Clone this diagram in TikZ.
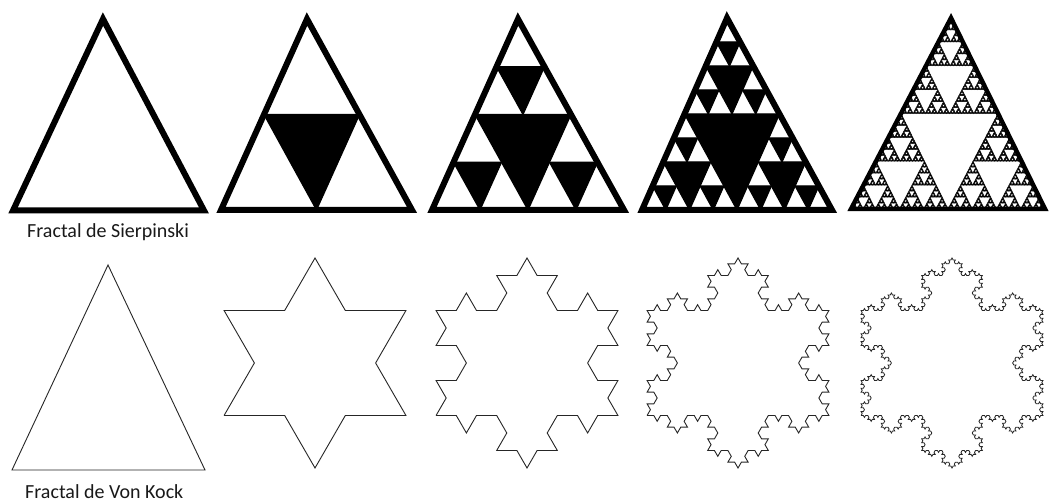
\documentclass[tikz,border=0pt]{standalone}
\usepackage{fontspec}
\setmainfont{Carlito}
\usetikzlibrary{lindenmayersystems}
\tikzset{
  outline/.style={line width=6pt, draw=black, line join=miter},
  kochline/.style={line width=0.9pt, draw=black!85, line join=miter},
  label/.style={anchor=base west, inner sep=0pt, text depth=0pt, font=\fontsize{20}{22}\selectfont, text=black!90},
  koch/.style={l-system={rule set={F -> F-F++F-F}, axiom=F++F++F, order=#1, step=181.87pt/(3^#1), angle=60}},
}
\newcommand\sierp[7]{%
  \ifnum#1>0
  \begingroup
    \pgfmathsetmacro\ux{(#2+#4)/2}\pgfmathsetmacro\uy{(#3+#5)/2}%
    \pgfmathsetmacro\vx{(#2+#6)/2}\pgfmathsetmacro\vy{(#3+#7)/2}%
    \pgfmathsetmacro\wx{(#4+#6)/2}\pgfmathsetmacro\wy{(#5+#7)/2}%
    \path[sierhole] (\ux,\uy)--(\vx,\vy)--(\wx,\wy)--cycle;
    \pgfmathtruncatemacro\nd{#1-1}%
    \edef\next{%
      \noexpand\sierp{\nd}{#2}{#3}{\ux}{\uy}{\vx}{\vy}%
      \noexpand\sierp{\nd}{\ux}{\uy}{#4}{#5}{\wx}{\wy}%
      \noexpand\sierp{\nd}{\vx}{\vy}{\wx}{\wy}{#6}{#7}}%
    \next
  \endgroup
  \fi}
\begin{document}
\begin{tikzpicture}[x=1pt,y=1pt]
\useasboundingbox[fill=white] (0,0) rectangle (1049,502);
% ---------- Sierpinski row ----------
\tikzset{sierhole/.style={fill=black, draw=black, line width=1.2pt, line join=miter}}
% T1
\draw[outline, fill=white] (103,483) -- (13,291.5) -- (204,291.5) -- cycle;
% T2
\fill[white] (307,483) -- (221,292) -- (412,292) -- cycle;
\sierp{1}{307}{483}{221}{292}{412}{292}
\draw[outline] (307,483) -- (221,292) -- (412,292) -- cycle;
% T3
\fill[white] (518,483) -- (432,292) -- (624,292) -- cycle;
\sierp{2}{518}{483}{432}{292}{624}{292}
\draw[outline] (518,483) -- (432,292) -- (624,292) -- cycle;
% T4
\fill[white] (727,484) -- (642,292) -- (832,292) -- cycle;
\sierp{3}{727}{484}{642}{292}{832}{292}
\draw[outline] (727,484) -- (642,292) -- (832,292) -- cycle;
% T5
\fill[black] (951,484) -- (851,293) -- (1045,293) -- cycle;
\tikzset{sierhole/.style={fill=white, draw=black, line width=0.5pt}}
\sierp{6}{951}{484}{851}{293}{1045}{293}
\draw[outline, line width=4.5pt] (951,484) -- (851,293) -- (1045,293) -- cycle;
\node[label] (sierlabel) at (27,264) {Fractal de Sierpinski};
% ---------- Von Koch row ----------
\draw[kochline] (108,237) -- (12,32) -- (205,32) -- cycle;
% snowflakes: centre (cx,139), R=105, s=181.87 ; start at bottom-left vertex
\begin{scope}[shift={(224.07,86.5)}]
  \draw[kochline, koch=1] lindenmayer system;
\end{scope}
\begin{scope}[shift={(436.07,86.5)}]
  \draw[kochline, koch=2] lindenmayer system;
\end{scope}
\begin{scope}[shift={(647.07,86.5)}]
  \draw[kochline, koch=3] lindenmayer system;
\end{scope}
\begin{scope}[shift={(861.07,86.5)}]
  \draw[kochline, line width=0.8pt, koch=4] lindenmayer system;
\end{scope}
\node[label] (kochlabel) at (25,3.5) {Fractal de Von Kock};
\end{tikzpicture}
\end{document}
